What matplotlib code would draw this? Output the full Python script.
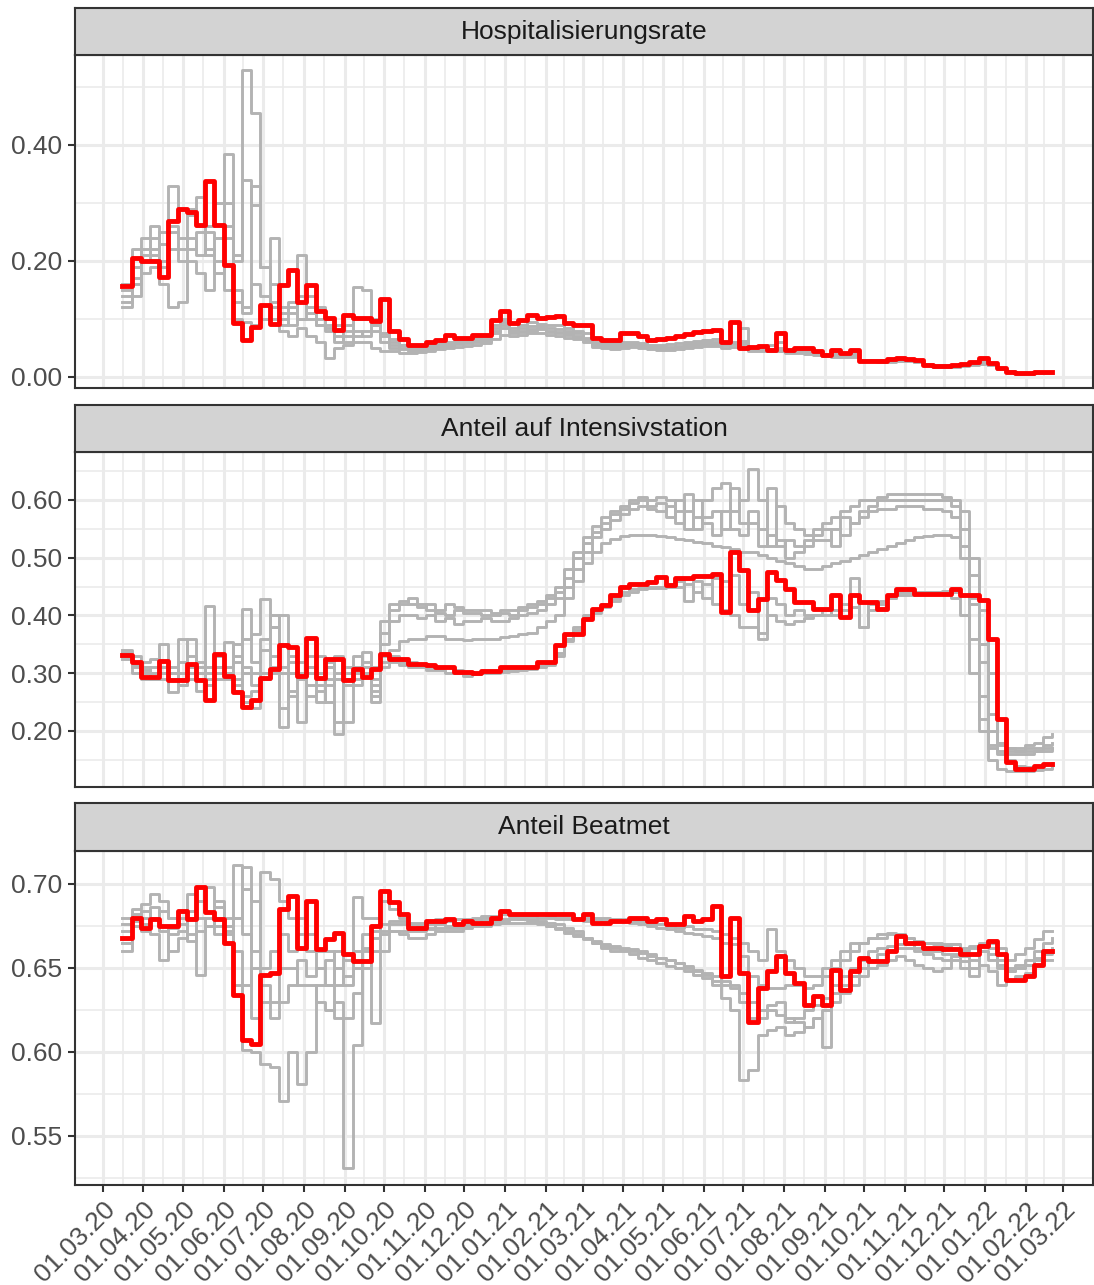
import matplotlib
matplotlib.use('Agg')
import matplotlib.pyplot as plt
import matplotlib.dates as mdates
import numpy as np
import pandas as pd

plt.rcParams['font.family'] = ['Liberation Sans', 'DejaVu Sans']

# weekly time grid (16.03.20 .. 21.02.22)
weeks = pd.date_range('2020-03-16', periods=102, freq='7D')
month_ticks = pd.date_range('2020-03-01', '2022-03-01', freq='MS')

titles = ['Hospitalisierungsrate', 'Anteil auf Intensivstation', 'Anteil Beatmet']

# ---- Hospitalisierungsrate ----
hosp_red = [.156, .205, .20, .20, .173, .268, .29, .285, .262, .337,
            .262, .193, .093, .064, .087, .124, .091, .159, .184, .130,
            .159, .113, .101, .081, .107, .101, .101, .097, .135, .08,
            .066, .055, .055, .06, .063, .072, .068, .068, .072, .072,
            .098, .113, .093, .098, .107, .101, .104, .105, .093, .09,
            .09, .067, .064, .064, .076, .076, .07, .063, .065, .067,
            .07, .074, .078, .079, .081, .06, .095, .05, .051, .053,
            .047, .076, .047, .05, .05, .044, .038, .047, .041, .047,
            .028, .028, .028, .031, .032, .031, .03, .021, .019, .019,
            .02, .023, .026, .032, .024, .016, .009, .007, .007, .008,
            .009, .009]
hosp_g1 = [.14, .19, .22, .24, .20, .25, .22, .24, .21, .26,
           .30, .24, .21, .53, .455, .19, .16, .12, .11, .10,
           .10, .09, .085, .08, .09, .10, .10, .09, .075, .065,
           .055, .05, .05, .055, .058, .06, .062, .065, .068, .07,
           .09, .10, .085, .09, .095, .092, .09, .09, .085, .08,
           .075, .06, .058, .058, .06, .06, .058, .055, .055, .056,
           .058, .06, .062, .064, .066, .055, .058, .085, .05, .048,
           .046, .06, .044, .044, .042, .04, .036, .04, .038, .04,
           .027, .027, .027, .028, .028, .027, .026, .02, .018, .018,
           .018, .02, .022, .025, .02, .013, .008, .006, .006, .007,
           .008, .008]
hosp_g2 = [.16, .22, .21, .26, .23, .33, .29, .28, .31, .25,
           .24, .385, .20, .34, .296, .19, .239, .10, .09, .21,
           .12, .10, .09, .07, .08, .155, .15, .10, .07, .055,
           .05, .048, .048, .05, .052, .055, .058, .06, .062, .065,
           .085, .095, .08, .085, .088, .088, .085, .082, .08, .075,
           .068, .058, .055, .055, .056, .058, .056, .053, .052, .052,
           .054, .056, .058, .06, .06, .058, .06, .062, .05, .05,
           .055, .05, .046, .05, .048, .042, .04, .042, .04, .042,
           .03, .03, .03, .03, .03, .03, .028, .022, .02, .02,
           .02, .022, .024, .027, .022, .015, .01, .007, .006, .007,
           .008, .008]
hosp_g3 = [.15, .17, .20, .22, .19, .26, .24, .22, .25, .21,
           .24, .30, .15, .12, .33, .19, .13, .09, .12, .14,
           .11, .09, .08, .06, .07, .08, .07, .09, .075, .06,
           .055, .05, .05, .052, .055, .058, .06, .06, .062, .064,
           .08, .09, .075, .08, .082, .085, .08, .078, .075, .07,
           .064, .055, .053, .052, .054, .055, .054, .052, .05, .05,
           .052, .054, .056, .058, .058, .057, .056, .056, .048, .047,
           .048, .046, .045, .045, .044, .04, .038, .038, .037, .038,
           .029, .029, .028, .029, .03, .029, .027, .021, .019, .019,
           .02, .021, .023, .026, .021, .014, .009, .006, .005, .006,
           .007, .007]
hosp_g4 = [.12, .14, .18, .19, .16, .12, .13, .20, .18, .15,
           .20, .15, .10, .095, .09, .10, .10, .08, .07, .085,
           .07, .06, .032, .05, .055, .06, .06, .05, .045, .045,
           .042, .042, .043, .045, .048, .05, .052, .054, .055, .058,
           .065, .072, .07, .072, .075, .075, .073, .07, .068, .065,
           .06, .052, .05, .049, .05, .052, .05, .048, .047, .047,
           .049, .05, .052, .053, .054, .05, .052, .05, .045, .044,
           .045, .044, .042, .042, .04, .038, .036, .035, .034, .035,
           .028, .027, .026, .026, .027, .027, .025, .02, .017, .017,
           .018, .019, .021, .023, .02, .013, .008, .005, .005, .006,
           .007, .007]
hosp_g5 = [.13, .16, .24, .21, .25, .22, .20, .29, .26, .22,
           .18, .26, .13, .11, .16, .14, .12, .11, .13, .10,
           .14, .12, .10, .09, .06, .07, .08, .08, .06, .05,
           .048, .045, .046, .048, .05, .053, .056, .058, .06, .062,
           .075, .085, .08, .078, .08, .082, .078, .075, .072, .068,
           .062, .056, .054, .054, .055, .056, .055, .05, .049, .05,
           .05, .052, .055, .056, .057, .056, .058, .058, .046, .046,
           .047, .045, .043, .044, .043, .039, .037, .037, .036, .037,
           .028, .028, .027, .028, .029, .028, .026, .021, .018, .018,
           .019, .02, .022, .025, .021, .014, .009, .006, .005, .006,
           .007, .007]

# ---- Anteil auf Intensivstation ----
icu_red = [.331, .319, .293, .293, .322, .288, .288, .316, .288, .253,
           .334, .296, .267, .241, .253, .291, .308, .349, .345, .296,
           .361, .291, .324, .324, .288, .308, .293, .308, .334, .325,
           .325, .316, .316, .314, .311, .311, .302, .302, .301, .303,
           .303, .311, .311, .311, .311, .319, .319, .348, .368, .368,
           .394, .412, .418, .435, .449, .455, .455, .458, .466, .452,
           .464, .464, .468, .468, .472, .406, .51, .478, .409, .429,
           .475, .461, .446, .423, .423, .412, .412, .435, .397, .435,
           .423, .423, .412, .435, .445, .445, .438, .438, .438, .438,
           .446, .435, .435, .426, .36, .22, .146, .135, .135, .139,
           .143, .143]
icu_u1 = [.335, .32, .31, .30, .35, .30, .29, .31, .30, .417,
          .33, .31, .35, .412, .32, .36, .38, .40, .33, .30,
          .30, .33, .31, .29, .28, .30, .337, .28,
          .39, .42, .425, .42, .415, .42, .41, .42, .415, .41,
          .41, .41, .405, .41, .41, .415, .42, .425, .435, .45,
          .48, .51, .535, .555, .57, .58, .59, .60, .605, .60,
          .605, .60, .58, .61, .55, .60, .62, .63, .58, .60,
          .654, .60, .52, .59, .56, .55, .54, .55, .56, .57,
          .58, .59, .60, .60, .605, .61, .61, .61, .61, .61,
          .61, .605, .60, .58, .50, .32, .20, .175, .17, .17,
          .175, .18, .19, .195]
icu_u2 = [.34, .33, .32, .325, .31, .29, .36, .33, .31, .30,
          .31, .354, .32, .36, .368, .429, .38, .207, .27, .215,
          .31, .30, .28, .33, .215, .33, .30, .26,
          .37, .41, .42, .43, .42, .41, .405, .40, .41, .405,
          .405, .40, .40, .405, .40, .41, .415, .42, .43, .44,
          .465, .50, .525, .545, .56, .575, .585, .595, .60, .59,
          .595, .57, .60, .55, .60, .57, .58, .55, .62, .56,
          .58, .55, .62, .52, .53, .52, .53, .54, .55, .52,
          .57, .56, .58, .59, .60, .60, .60, .60, .60, .60,
          .60, .60, .59, .55, .42, .26, .175, .165, .165, .165,
          .17, .17, .175, .18]
icu_u3 = [.33, .315, .30, .29, .30, .267, .28, .31, .32, .28,
          .31, .30, .33, .30, .30, .34, .31, .30, .26, .30,
          .26, .27, .25, .195, .29, .28, .32, .25,
          .35, .39, .40, .40, .395, .40, .39, .395, .385, .39,
          .39, .395, .39, .39, .395, .40, .405, .41, .42, .43,
          .45, .48, .51, .535, .55, .565, .575, .585, .59, .585,
          .58, .59, .56, .58, .57, .56, .54, .58, .55, .54,
          .56, .52, .54, .53, .50, .51, .52, .53, .53, .55,
          .54, .56, .57, .58, .585, .585, .59, .59, .59, .585,
          .585, .58, .57, .50, .36, .22, .17, .16, .16, .16,
          .16, .165, .165, .17]
icu_m = [.325, .31, .305, .29, .31, .30, .32, .30, .29, .31,
         .29, .30, .28, .31, .28, .30, .40, .24, .30, .32,
         .28, .25, .29, .30, .29, .31, .30, .27,
         .31, .34, .355, .36, .36, .365, .365, .36, .36, .358,
         .36, .36, .36, .362, .365, .368, .37, .38, .39, .40,
         .43, .46, .49, .51, .525, .533, .537, .54, .54, .539,
         .537, .535, .533, .53, .528, .525, .52, .518, .515, .51,
         .51, .505, .50, .495, .49, .485, .48, .48, .485, .49,
         .495, .50, .505, .51, .515, .52, .525, .53, .535, .538,
         .539, .539, .535, .52, .47, .35, .23, .18, .17, .165,
         .165, .165, .17, .17]
icu_l1 = [.33, .30, .29, .30, .30, .29, .28, .36, .30, .28,
          .30, .29, .27, .26, .27, .29, .33, .35, .30, .29,
          .33, .28, .32, .29, .31, .30, .31, .31,
          .33, .33, .32, .32, .315, .31, .31, .31, .305, .30,
          .30, .30, .302, .305, .308, .31, .31, .312, .318, .335,
          .36, .38, .40, .41, .42, .43, .44, .445, .447, .45,
          .45, .455, .46, .425, .46, .43, .465, .41, .47, .42,
          .44, .36, .43, .42, .40, .41, .40, .40, .41, .40,
          .42, .464, .38, .41, .42, .43, .44, .44, .44, .44,
          .44, .443, .44, .435, .43, .41, .30, .18, .15, .14,
          .138, .14, .142, .145]
icu_l2 = [.335, .32, .30, .31, .29, .31, .30, .29, .27, .29,
          .31, .30, .29, .25, .24, .29, .30, .31, .32, .29,
          .31, .30, .31, .215, .30, .29, .30, .29,
          .32, .32, .315, .31, .31, .305, .305, .30, .30, .295,
          .298, .30, .30, .302, .304, .305, .308, .31, .315, .33,
          .355, .375, .395, .405, .415, .425, .435, .44, .445, .447,
          .447, .45, .45, .455, .44, .455, .42, .46, .40, .38,
          .38, .37, .40, .39, .385, .39, .395, .40, .40, .41,
          .41, .415, .38, .42, .425, .43, .435, .435, .44, .44,
          .44, .44, .43, .40, .30, .20, .15, .135, .13, .13,
          .13, .132, .135, .138]

# ---- Anteil Beatmet ----
vent_red = [.668, .680, .674, .679, .675, .675, .684, .679, .698, .683,
            .679, .665, .634, .607, .605, .646, .647, .685, .693, .662,
            .690, .661, .667, .671, .658, .654, .654, .675, .696, .689,
            .682, .674, .674, .678, .678, .679, .676, .678, .677, .677,
            .680, .684, .682, .682, .682, .682, .682, .682, .682, .679,
            .682, .677, .677, .678, .678, .680, .680, .678, .679, .676,
            .676, .681, .678, .679, .687, .645, .680, .647, .618, .638,
            .648, .657, .647, .641, .628, .633, .628, .649, .637, .648,
            .656, .654, .654, .660, .669, .665, .665, .662, .662, .661,
            .661, .658, .658, .663, .666, .658, .643, .643, .645, .652,
            .660, .660]
vent_g1 = [.68, .685, .688, .694, .690, .68, .684, .694, .690, .698,
           .686, .67, .711, .67, .66, .707, .703, .69, .68, .67,
           .66, .65, .64, .66, .64, .692, .68, .68,
           .69, .685, .68, .676, .676, .676, .678, .678, .677, .678,
           .679, .68, .68, .682, .681, .681, .681, .68, .68, .679,
           .679, .68, .678, .68, .68, .679, .679, .678, .678, .676,
           .676, .675, .674, .675, .673, .673, .672, .67, .668, .665,
           .66, .655, .673, .66, .655, .65, .645, .645, .65, .655,
           .66, .665, .665, .668, .668, .67, .67, .668, .665, .665,
           .665, .664, .664, .662, .663, .665, .665, .662, .655, .658,
           .662, .667, .672, .672]
vent_g2 = [.66, .675, .672, .67, .655, .67, .672, .68, .646, .675,
           .67, .675, .66, .601, .60, .593, .591, .571, .60, .581,
           .60, .64, .64, .62, .531, .604, .66, .617,
           .66, .672, .67, .668, .668, .67, .672, .672, .672, .674,
           .675, .675, .676, .677, .677, .677, .677, .676, .675, .674,
           .672, .67, .668, .666, .664, .663, .662, .661, .66, .658,
           .656, .655, .653, .65, .648, .646, .64, .632, .625, .583,
           .589, .61, .613, .615, .61, .612, .615, .62, .603, .63,
           .635, .64, .645, .65, .652, .655, .657, .655, .652, .65,
           .648, .65, .655, .65, .645, .652, .648, .64, .643, .645,
           .647, .652, .655, .655]
vent_g3 = [.676, .682, .68, .686, .675, .66, .668, .67, .68, .675,
           .68, .665, .68, .697, .62, .64, .63, .65, .65, .64,
           .64, .63, .625, .63, .62, .635, .65, .66,
           .672, .676, .676, .674, .675, .674, .676, .675, .675, .676,
           .677, .678, .678, .679, .68, .679, .679, .678, .677, .676,
           .674, .672, .668, .665, .662, .66, .66, .658, .656, .655,
           .653, .651, .65, .648, .646, .644, .642, .64, .638, .63,
           .62, .625, .628, .63, .62, .618, .615, .62, .625, .635,
           .64, .645, .65, .655, .658, .66, .662, .662, .66, .658,
           .656, .655, .657, .654, .65, .66, .655, .65, .648, .65,
           .652, .655, .658, .66]
vent_g4 = [.672, .678, .676, .68, .672, .674, .676, .666, .672, .68,
           .675, .672, .64, .64, .65, .63, .62, .63, .64, .655,
           .645, .65, .655, .64, .645, .65, .662, .668,
           .67, .672, .672, .672, .672, .673, .674, .674, .674, .675,
           .676, .677, .678, .678, .679, .679, .678, .677, .675, .673,
           .671, .669, .667, .665, .663, .662, .661, .66, .659, .657,
           .656, .655, .653, .651, .649, .647, .645, .642, .64, .635,
           .63, .62, .625, .622, .618, .62, .625, .628, .632, .64,
           .645, .65, .655, .66, .662, .663, .664, .664, .662, .66,
           .66, .658, .658, .657, .655, .66, .658, .652, .648, .65,
           .652, .656, .66, .662]
vent_g5 = [.665, .68, .684, .68, .684, .68, .68, .684, .69, .683,
           .69, .68, .68, .71, .69, .65, .66, .67, .66, .68,
           .67, .66, .66, .65, .655, .66, .67, .672,
           .676, .678, .678, .677, .677, .678, .679, .679, .679, .679,
           .68, .681, .681, .682, .682, .682, .682, .682, .681, .68,
           .68, .68, .68, .679, .678, .678, .678, .677, .676, .675,
           .674, .673, .672, .671, .67, .669, .668, .665, .664, .657,
           .645, .64, .638, .638, .64, .64, .638, .64, .645, .65,
           .655, .66, .665, .668, .67, .671, .67, .668, .666, .665,
           .664, .663, .664, .66, .662, .664, .662, .655, .65, .652,
           .655, .66, .665, .668]

panels = [
    (hosp_red, [hosp_g1, hosp_g2, hosp_g3, hosp_g4, hosp_g5],
     (-0.019, 0.555), [0.0, 0.2, 0.4], [0.1, 0.3, 0.5]),
    (icu_red, [icu_u1, icu_u2, icu_u3, icu_m, icu_l1, icu_l2],
     (0.103, 0.683), [0.2, 0.3, 0.4, 0.5, 0.6], [0.15, 0.25, 0.35, 0.45, 0.55, 0.65]),
    (vent_red, [vent_g1, vent_g2, vent_g3, vent_g4, vent_g5],
     (0.5208, 0.7196), [0.55, 0.60, 0.65, 0.70], [0.525, 0.575, 0.625, 0.675]),
]

W, H = 1094, 1285
left_px, right_px = 75, 1093
rows_px = [(8, 55, 388), (405, 452, 787), (803, 851, 1185)]
xlim = (pd.Timestamp('2020-02-09'), pd.Timestamp('2022-03-24'))
edge = '#333333'
fs = 19
tick_num = mdates.date2num(month_ticks)
minor_x = (tick_num[:-1] + tick_num[1:]) / 2

fig = plt.figure(figsize=(W / 100, H / 100), dpi=100)

for i, (red, grays, ylim, yt, ymin) in enumerate(panels):
    s_top, p_top, p_bot = rows_px[i]
    ax = fig.add_axes([left_px / W, 1 - p_bot / H, (right_px - left_px) / W, (p_bot - p_top) / H])
    sax = fig.add_axes([left_px / W, 1 - p_top / H, (right_px - left_px) / W, (p_top - s_top) / H])

    for g in grays:
        ax.plot(weeks, g, color='#B3B3B3', lw=2.1, drawstyle='steps-post', zorder=2)
    ax.plot(weeks, red, color='#FF0000', lw=3.5, drawstyle='steps-post', zorder=3)

    ax.set_xlim(xlim)
    ax.set_ylim(ylim)
    ax.set_yticks(yt)
    ax.set_yticks(ymin, minor=True)
    ax.set_yticklabels(['%.2f' % v for v in yt])
    ax.set_xticks(tick_num)
    ax.set_xticks(minor_x, minor=True)
    ax.grid(which='major', color='#EBEBEB', lw=2.2, zorder=0)
    ax.grid(which='minor', color='#EBEBEB', lw=1.2, zorder=0)
    ax.set_axisbelow(True)
    ax.tick_params(axis='y', which='major', length=5, width=1.5, color=edge,
                   labelsize=fs, labelcolor='#4D4D4D', pad=4)
    ax.tick_params(which='minor', length=0)
    if i == 2:
        ax.set_xticklabels(month_ticks.strftime('%d.%m.%y'), rotation=45,
                           ha='right', va='top', rotation_mode='anchor')
        ax.tick_params(axis='x', which='major', length=5, width=1.5, color=edge,
                       labelsize=fs, labelcolor='#4D4D4D', pad=4)
    else:
        ax.tick_params(axis='x', which='major', length=0, labelbottom=False)
    for sp in ax.spines.values():
        sp.set_color(edge)
        sp.set_linewidth(1.5)

    sax.set_facecolor('#D3D3D3')
    sax.set_xticks([])
    sax.set_yticks([])
    for sp in sax.spines.values():
        sp.set_color(edge)
        sp.set_linewidth(1.5)
    sax.text(0.5, 0.5, titles[i], transform=sax.transAxes, ha='center', va='center',
             fontsize=fs, color='#1A1A1A')

fig.savefig('out.png', dpi=100)
